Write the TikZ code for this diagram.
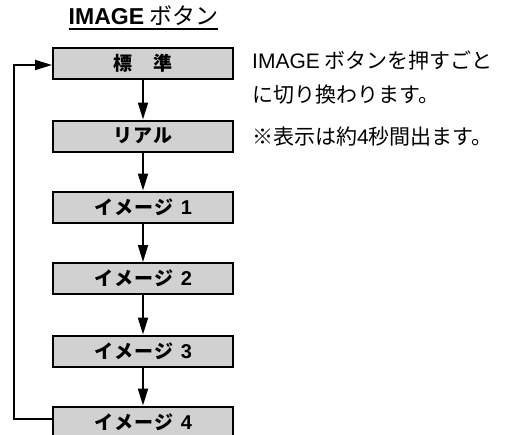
\documentclass[tikz,border=0pt]{standalone}
\usepackage{fontspec}
\setmainfont{Noto Sans CJK JP}
\newfontfamily\lat{Liberation Sans}
\newfontfamily\boxjp{Noto Sans CJK JP}[LetterSpace=6]
\newcommand\dig[1]{{\fontsize{20}{20}\selectfont\lat #1}}
\usetikzlibrary{arrows.meta}
\begin{document}
\begin{tikzpicture}[x=1pt,y=-1pt,
  modebox/.style={draw=black,line width=2pt,fill=gray!36,minimum width=180pt,minimum height=31pt,inner sep=0pt,font=\fontsize{19}{19}\selectfont\bfseries\boxjp},
  flow/.style={line width=1.9pt,-{Triangle[length=17pt,width=10pt]}},
  note/.style={anchor=base west,inner sep=0pt,font=\fontsize{21}{21}\selectfont}]
\useasboundingbox (0,0) rectangle (505,434);
\node[inner sep=0pt,anchor=base,font=\fontsize{23}{23}\selectfont] (title) at (143.5,24) {{\lat\bfseries IMAGE} ボタン};
\draw[line width=1.2pt] (title.base west) ++(0,5) coordinate (ul) -- (ul -| title.east);
\node[modebox] (b0) at (143,63) {標\hspace{1.1em}準};
\node[modebox] (b1) at (143,136) {リアル};
\node[modebox] (b2) at (143,207) {イメージ\hspace{0.4em}\dig{1}};
\node[modebox] (b3) at (143,278.5) {イメージ\hspace{0.4em}\dig{2}};
\node[modebox] (b4) at (143,351) {イメージ\hspace{0.4em}\dig{3}};
\node[modebox] (b5) at (143,422) {イメージ\hspace{0.4em}\dig{4}};
\foreach \a/\b in {b0/b1,b1/b2,b2/b3,b3/b4,b4/b5}
  \draw[flow] (\a.south) -- (\b.north);
\coordinate (lb) at (14,419);
\coordinate (lt) at (14,65);
\draw[flow] (b5.west |- lb) -- (lb) -- (lt) -- (b0.west |- lt);
\node[note] (t1) at (252,68) {{\lat IMAGE} ボタンを押すごと};
\node[note] (t2) at (252,102) {に切り換わります。};
\node[note] (t3) at (252,144) {※表示は約{\lat 4}秒間出ます。};
\end{tikzpicture}
\end{document}
